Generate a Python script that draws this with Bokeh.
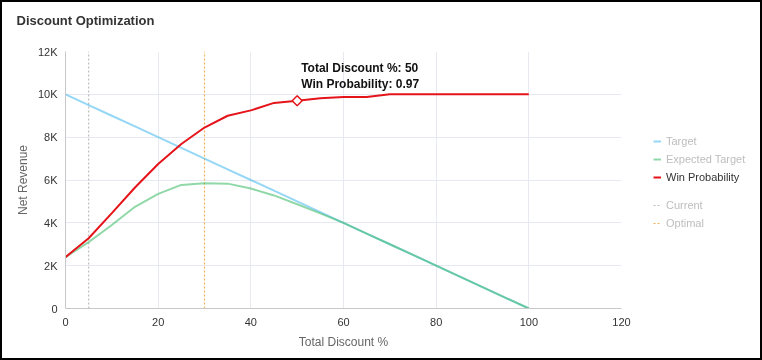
from bokeh.plotting import figure
from bokeh.layouts import row
from bokeh.models import (Range1d, FixedTicker, Legend, LegendItem, Label, Title,
                          InlineStyleSheet)
from bokeh.embed import file_html
from bokeh.resources import INLINE

# ---- data ----
discount = [0, 5, 10, 15, 20, 25, 30, 35, 40, 45, 50, 55, 60, 65, 70, 75, 80, 85, 90, 95, 100]
target = [10000, 9500, 9000, 8500, 8000, 7500, 7000, 6500, 6000, 5500, 5000, 4500, 4000,
          3500, 3000, 2500, 2000, 1500, 1000, 500, 0]
expected_target = [2400, 3100, 3900, 4750, 5350, 5770, 5850, 5830, 5600, 5280, 4870, 4440, 4000,
                   3500, 3000, 2500, 2000, 1500, 1000, 500, 0]
win_probability = [2400, 3280, 4450, 5650, 6750, 7680, 8450, 9000, 9250, 9600, 9700, 9820, 9880,
                   9880, 10000, 10000, 10000, 10000, 10000, 10000, 10000]
current_discount = 5
optimal_discount = 30
selected_discount = 50
selected_win_prob = 0.97
selected_value = 9700
x_ticks = [0, 20, 40, 60, 80, 100, 120]
y_ticks = [0, 2000, 4000, 6000, 8000, 10000, 12000]
y_tick_labels = ["0", "2K", "4K", "6K", "8K", "10K", "12K"]
y_span = [0, 12000]

FONT = "Liberation Sans"
C_TARGET = "#4fbdee"
C_EXPECTED = "#46be6e"
C_WIN = "#e5141b"
C_CURRENT = "#bdbdbd"
C_OPTIMAL = "#f5b25a"

p = figure(width=641, height=356, output_backend="svg", toolbar_location=None,
           x_range=Range1d(0, 120), y_range=Range1d(0, 12000),
           min_border_left=63, min_border_right=22, min_border_top=49, min_border_bottom=50)
p.outline_line_color = None
p.background_fill_color = "white"
p.border_fill_alpha = 0

# spacer between frame and title (nearest the frame)
p.add_layout(Title(text=" ", text_font_size="1px", standoff=21), "above")

p.title.text = "Discount Optimization"
p.title.align = "left"
p.title.offset = -49
p.title.text_font = FONT
p.title.text_font_size = "13px"
p.title.text_font_style = "bold"
p.title.text_color = "#333333"
p.title.standoff = 0

# grid
p.xgrid.grid_line_color = "#e6e9ef"
p.ygrid.grid_line_color = "#e6e9ef"
p.xaxis.ticker = FixedTicker(ticks=x_ticks)
p.yaxis.ticker = FixedTicker(ticks=y_ticks)
p.yaxis.major_label_overrides = {t: l for t, l in zip(y_ticks, y_tick_labels)}

for ax in (p.xaxis, p.yaxis):
    ax.axis_line_color = "#c8c8c8"
    ax.major_tick_line_color = None
    ax.minor_tick_line_color = None
    ax.major_tick_out = 0
    ax.major_tick_in = 0
    ax.major_label_text_font = FONT
    ax.major_label_text_font_size = "11px"
    ax.major_label_text_color = "#333333"
    ax.axis_label_text_font = FONT
    ax.axis_label_text_font_size = "12px"
    ax.axis_label_text_font_style = "normal"
    ax.axis_label_text_color = "#666666"
p.xaxis.axis_label = "Total Discount %"
p.yaxis.axis_label = "Net Revenue"
p.xaxis.major_label_standoff = 9
p.yaxis.major_label_standoff = 8
p.xaxis.axis_label_standoff = 6
p.yaxis.axis_label_standoff = 5

# lines
p.line([current_discount, current_discount], y_span, line_color=C_CURRENT,
       line_width=1.2, line_dash="2 2")
p.line([optimal_discount, optimal_discount], y_span, line_color=C_OPTIMAL,
       line_width=1.2, line_dash="2 2")
p.line(discount, target, line_color=C_TARGET, line_alpha=0.6, line_width=2)
p.line(discount, expected_target, line_color=C_EXPECTED, line_alpha=0.6, line_width=2)
p.line(discount, win_probability, line_color=C_WIN, line_width=2)
p.scatter([selected_discount], [selected_value], marker="square", angle=45, angle_units="deg",
          size=7, line_color=C_WIN, fill_color="white", line_width=1.5)

p.add_layout(Label(x=selected_discount, y=selected_value, x_offset=4, y_offset=10,
                   text=f"Total Discount %: {selected_discount}\nWin Probability: {selected_win_prob}",
                   text_font=FONT, text_font_size="12px", text_font_style="bold",
                   text_color="#111111", text_baseline="bottom", text_line_height=1.12))

# ---- legend panel (legend proxies share the series data, kept out of view) ----
q = figure(width=117, height=356, output_backend="svg", toolbar_location=None,
           x_range=Range1d(-1000, -999), y_range=Range1d(-1000, -999),
           x_axis_type=None, y_axis_type=None, min_border=0)
q.grid.visible = False
q.outline_line_color = None
q.border_fill_alpha = 0
q.background_fill_alpha = 0

lt = q.line(discount, target, line_color=C_TARGET, line_alpha=0.6, line_width=2)
le = q.line(discount, expected_target, line_color=C_EXPECTED, line_alpha=0.6, line_width=2)
lw = q.line(discount, win_probability, line_color=C_WIN, line_width=2)
lc = q.line([current_discount, current_discount], y_span, line_color=C_CURRENT,
            line_width=1.2, line_dash="2 2")
lo = q.line([optimal_discount, optimal_discount], y_span, line_color=C_OPTIMAL,
            line_width=1.2, line_dash="2 2")

def mk_legend(items, color, vy):
    lg = Legend(items=items, location=(10, vy), label_text_font=FONT,
                label_text_font_size="11px", label_text_color=color,
                glyph_width=8, glyph_height=14, label_height=14, label_standoff=5,
                spacing=4, padding=0, margin=0, border_line_alpha=0,
                background_fill_alpha=0)
    q.add_layout(lg)

mk_legend([LegendItem(label="Target", renderers=[lt]),
           LegendItem(label="Expected Target", renderers=[le])], "#bdbdbd", 142)
mk_legend([LegendItem(label="Win Probability", renderers=[lw])], "#333333", 124)
mk_legend([LegendItem(label="Current", renderers=[lc]),
           LegendItem(label="Optimal", renderers=[lo])], "#bdbdbd", 78)

layout = row(p, q)
layout.stylesheets = [InlineStyleSheet(css=":host{position:fixed !important;left:0;top:0;border:2px solid #000;}")]

open("out.html", "w").write(file_html(layout, INLINE))
